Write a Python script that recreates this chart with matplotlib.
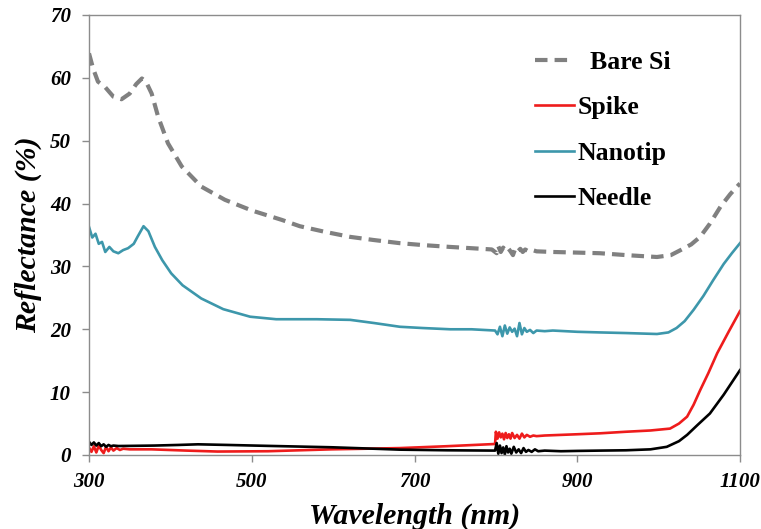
import matplotlib
matplotlib.use("Agg")
import matplotlib.pyplot as plt

# ---- data ----
bare_x = [300, 305, 311, 320, 330, 340, 350, 358, 365, 370, 377, 385, 397, 414, 438, 467, 500, 537,
          559, 590, 621, 650, 682, 710, 744, 770, 795, 801, 803, 806, 809, 812, 815, 818, 821, 824,
          827, 830, 833, 836, 840, 845, 850, 870, 900, 928, 960, 998, 1015, 1027, 1040, 1051, 1063,
          1076, 1088, 1100]
bare_y = [63.9, 61.5, 59.4, 58.5, 57.0, 56.6, 57.5, 59.0, 59.9, 59.4, 57.5, 53.8, 49.6, 45.9, 42.7,
          40.6, 38.9, 37.4, 36.4, 35.5, 34.7, 34.2, 33.7, 33.4, 33.1, 32.9, 32.7, 32.1, 33.2, 32.3,
          33.0, 32.5, 32.9, 32.4, 31.8, 32.9, 32.4, 32.8, 32.3, 32.7, 32.4, 32.6, 32.4, 32.3, 32.2,
          32.1, 31.8, 31.5, 31.8, 32.6, 33.5, 34.7, 36.8, 39.5, 41.5, 43.2]

nano_x = [300, 304, 308, 312, 316, 320, 325, 330, 336, 342, 348, 355, 360, 367, 373, 381, 390, 401,
          415, 438, 465, 498, 530, 580, 621, 650, 682, 710, 744, 770, 799, 802, 805, 808, 811, 814,
          817, 820, 823, 826, 829, 832, 835, 838, 842, 846, 850, 860, 870, 900, 928, 960, 998,
          1012, 1022, 1032, 1043, 1055, 1067, 1080, 1090, 1100]
nano_y = [36.3, 34.6, 35.2, 33.6, 33.9, 32.3, 33.1, 32.4, 32.1, 32.6, 32.9, 33.6, 34.8, 36.4, 35.6,
          33.1, 31.0, 28.9, 27.0, 24.9, 23.2, 22.0, 21.6, 21.6, 21.5, 21.0, 20.4, 20.2, 20.0, 20.0,
          19.8, 19.2, 20.4, 18.9, 20.6, 19.3, 20.3, 19.6, 20.1, 18.9, 21.0, 19.2, 20.2, 19.6, 19.9,
          19.4, 19.8, 19.7, 19.8, 19.6, 19.5, 19.4, 19.25, 19.5, 20.2, 21.3, 23.1, 25.3, 27.8, 30.4,
          32.1, 33.7]

spike_x = [300, 303, 306, 309, 312, 315, 318, 321, 324, 327, 330, 334, 338, 342, 350, 377, 420, 458,
           520, 598, 640, 682, 740, 799, 800, 802, 804, 806, 808, 810, 812, 814, 816, 818, 820, 823,
           826, 829, 832, 835, 838, 842, 846, 850, 860, 880, 900, 928, 960, 990, 1014, 1025, 1035,
           1043, 1051, 1061, 1072, 1086, 1100]
spike_y = [1.2, 0.5, 1.4, 0.4, 1.5, 0.8, 0.3, 1.3, 0.6, 1.2, 0.7, 1.1, 0.8, 1.0, 0.9, 0.9, 0.7, 0.55,
           0.6, 0.9, 1.0, 1.1, 1.4, 1.75, 3.7, 2.6, 3.6, 2.8, 3.4, 2.5, 3.5, 2.7, 3.3, 2.6, 3.5, 2.7,
           3.2, 2.6, 3.4, 2.8, 3.2, 2.9, 3.1, 3.0, 3.1, 3.2, 3.3, 3.45, 3.7, 3.9, 4.2, 5.0, 6.1, 8.0,
           10.3, 13.0, 16.2, 19.6, 22.9]

needle_x = [300, 303, 306, 309, 312, 315, 318, 321, 324, 327, 330, 336, 350, 380, 410, 434, 470, 520,
            598, 650, 682, 740, 799, 801, 803, 805, 807, 809, 811, 813, 815, 817, 819, 822, 825, 828,
            831, 834, 837, 840, 844, 848, 852, 860, 880, 900, 928, 960, 990, 1010, 1025, 1035, 1048,
            1063, 1080, 1100]
needle_y = [2.1, 1.6, 2.0, 1.5, 1.9, 1.4, 1.7, 1.3, 1.6, 1.4, 1.5, 1.43, 1.45, 1.5, 1.6, 1.7, 1.6,
            1.45, 1.23, 1.0, 0.85, 0.75, 0.7, 1.9, 0.2, 1.5, 0.3, 1.2, 0.1, 1.4, 0.4, 1.0, 0.2, 1.3,
            0.4, 0.9, 0.3, 1.1, 0.5, 0.8, 0.5, 0.9, 0.6, 0.7, 0.6, 0.65, 0.7, 0.75, 0.9, 1.3, 2.2,
            3.2, 4.8, 6.6, 9.6, 13.5]

x_ticks = [300, 500, 700, 900, 1100]
y_ticks = [0, 10, 20, 30, 40, 50, 60, 70]

# ---- figure ----
fig = plt.figure(figsize=(7.61, 5.29), dpi=100)
ax = fig.add_axes([89/761, 1-455/529, (740-89)/761, (455-15)/529])

serif = ["Liberation Serif", "DejaVu Serif"]

ax.plot(bare_x, bare_y, color="#808080", lw=3.0, ls=(0, (3.0, 1.7)), label="  Bare Si")
ax.plot(spike_x, spike_y, color="#ee1c1c", lw=1.9, label="Spike")
ax.plot(nano_x, nano_y, color="#3d97ab", lw=1.9, label="Nanotip")
ax.plot(needle_x, needle_y, color="#000000", lw=1.9, label="Needle")

ax.set_xlim(300, 1100)
ax.set_ylim(0, 70)
ax.set_xticks(x_ticks)
ax.set_yticks(y_ticks)
ax.set_xticklabels([str(v) for v in x_ticks])
ax.set_yticklabels([str(v) for v in y_ticks])

for sp in ax.spines.values():
    sp.set_color("#8c8c8c")
    sp.set_linewidth(1.0)

ax.tick_params(axis="both", direction="out", length=5, color="#8c8c8c", width=1.0)
ax.tick_params(axis="x", pad=7)
ax.tick_params(axis="y", pad=8)
for lab in ax.get_xticklabels() + ax.get_yticklabels():
    lab.set_family(serif)
    lab.set_fontweight("bold")
    lab.set_fontstyle("italic")
    lab.set_fontsize(15)

ax.set_xlabel("Wavelength (nm)", family=serif, fontweight="bold", fontstyle="italic",
              fontsize=21.5, labelpad=8)
ax.set_ylabel("Reflectance (%)", family=serif, fontweight="bold", fontstyle="italic",
              fontsize=21.5, labelpad=6)

leg = ax.legend(loc="upper left", bbox_to_anchor=((535-89)/651, (455-51)/440), frameon=False,
                borderpad=0, borderaxespad=0,
                prop={"family": serif, "weight": "bold", "size": 18.5},
                handlelength=1.5, handletextpad=0.15, labelspacing=0.87)

fig.savefig("out.png", dpi=100)
